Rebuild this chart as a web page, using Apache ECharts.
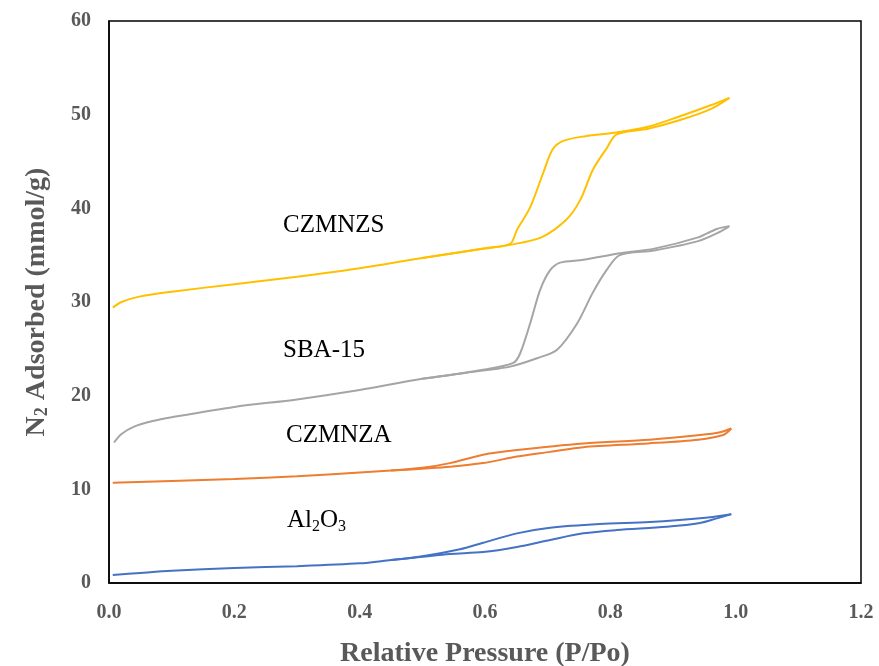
<!DOCTYPE html>
<html>
<head>
<meta charset="utf-8">
<script src="https://cdn.jsdelivr.net/npm/echarts@6/dist/echarts.min.js"></script>
<style>
  html, body { margin: 0; padding: 0; background: #fff; }
  #chart { width: 879px; height: 666px; }
</style>
</head>
<body>
<div id="chart"></div>
<script>
// 吸附/脱附等温线 [P/Po, mmol/g]
const czmnzsAds = [[0.006,29.4],[0.02,30.0],[0.05,30.6],[0.1,31.1],[0.2,31.9],[0.3,32.7],[0.4,33.6],[0.5,34.7],[0.6,35.7],[0.64,36.1],[0.69,36.9],[0.73,38.8],[0.752,40.9],[0.772,44.1],[0.795,46.5],[0.81,47.9],[0.86,48.5],[0.91,49.4],[0.96,50.6],[0.99,51.8]]
const czmnzsDes = [[0.99,51.8],[0.96,51.0],[0.91,49.8],[0.86,48.7],[0.81,48.1],[0.76,47.7],[0.725,47.2],[0.708,46.3],[0.693,43.8],[0.672,40.1],[0.651,37.7],[0.64,36.2],[0.6,35.75],[0.5,34.7]]
const sbaAds = [[0.008,15.0],[0.02,15.9],[0.04,16.7],[0.07,17.3],[0.1,17.7],[0.2,18.8],[0.3,19.6],[0.4,20.6],[0.5,21.8],[0.6,22.7],[0.64,23.1],[0.683,24.0],[0.715,24.9],[0.747,27.7],[0.772,31.0],[0.794,33.4],[0.815,35.0],[0.87,35.5],[0.94,36.5],[0.975,37.5],[0.99,38.1]]
const sbaDes = [[0.99,38.1],[0.97,37.8],[0.94,36.9],[0.87,35.7],[0.815,35.2],[0.757,34.5],[0.72,34.2],[0.704,33.4],[0.688,31.3],[0.672,27.7],[0.656,24.5],[0.645,23.5],[0.6,22.8],[0.5,21.8]]
const czmnzaAds = [[0.006,10.7],[0.1,10.9],[0.2,11.1],[0.3,11.4],[0.4,11.8],[0.45,12.0],[0.5,12.2],[0.544,12.4],[0.597,12.8],[0.651,13.5],[0.704,14.0],[0.757,14.5],[0.86,14.9],[0.94,15.3],[0.98,15.8],[0.993,16.5]]
const czmnzaDes = [[0.993,16.5],[0.975,16.1],[0.943,15.8],[0.863,15.3],[0.757,14.9],[0.651,14.2],[0.597,13.7],[0.544,12.8],[0.5,12.3],[0.45,12.0]]
const aluminaAds = [[0.006,0.85],[0.05,1.07],[0.1,1.3],[0.2,1.6],[0.3,1.8],[0.4,2.1],[0.45,2.45],[0.5,2.8],[0.544,3.1],[0.597,3.3],[0.651,3.85],[0.704,4.6],[0.757,5.3],[0.81,5.65],[0.89,6.0],[0.943,6.4],[0.97,6.9],[0.993,7.35]]
const aluminaDes = [[0.993,7.35],[0.943,6.9],[0.863,6.5],[0.783,6.3],[0.704,5.9],[0.651,5.3],[0.597,4.3],[0.56,3.6],[0.5,2.85],[0.45,2.45]]

const chart = echarts.init(document.getElementById('chart'))
const serif = 'Liberation Serif'

function branch (data, color) {
  return {
    type: 'line',
    data: data,
    smooth: 0.3,
    showSymbol: false,
    lineStyle: { color: color, width: 2 },
    z: 3
  }
}

// 曲线旁边的文字标签
function tag (x, y, text, rich) {
  return {
    type: 'text',
    left: x,
    top: y,
    style: {
      text: text,
      rich: rich,
      font: '25px "' + serif + '"',
      fill: '#000'
    }
  }
}

const option = {
  animation: false,
  grid: {
    left: 109, right: 18, top: 21, bottom: 83,
    outerBoundsMode: 'none',
    show: true, borderColor: '#000', borderWidth: 1.5
  },
  xAxis: {
    type: 'value',
    min: 0, max: 1.2, interval: 0.2,
    name: 'Relative Pressure (P/Po)',
    nameLocation: 'middle',
    nameGap: 57,
    nameTextStyle: { fontFamily: serif, fontSize: 28, fontWeight: 'bold', color: '#595959' },
    axisLine: { lineStyle: { color: '#000', width: 1.5 } },
    axisTick: { show: false },
    splitLine: { show: false },
    axisLabel: {
      margin: 20, fontFamily: serif, fontSize: 20, fontWeight: 'bold', color: '#595959',
      formatter: v => v.toFixed(1)
    }
  },
  yAxis: {
    type: 'value',
    min: 0, max: 60, interval: 10,
    name: '{b|N}{s|2}{b| Adsorbed (mmol/g)}',
    nameLocation: 'middle',
    nameGap: 58,
    nameTextStyle: {
      rich: {
        b: { fontFamily: serif, fontSize: 28, fontWeight: 'bold', color: '#595959' },
        s: { fontFamily: serif, fontSize: 18, fontWeight: 'bold', color: '#595959', verticalAlign: 'bottom', padding: [10, 0, 0, 0] }
      }
    },
    axisLine: { lineStyle: { color: '#000', width: 1.5 } },
    axisTick: { show: false },
    splitLine: { show: false },
    axisLabel: { margin: 18, fontFamily: serif, fontSize: 20, fontWeight: 'bold', color: '#595959' }
  },
  graphic: [
    tag(283, 213, 'CZMNZS'),
    tag(283, 338, 'SBA-15'),
    tag(286, 423, 'CZMNZA'),
    tag(287, 508, '{a|Al}{s|2}{a|O}{s|3}', {
      a: { fontFamily: serif, fontSize: 25, color: '#000' },
      s: { fontFamily: serif, fontSize: 16, color: '#000', padding: [12, 0, 0, 0] }
    })
  ],
  series: [
    branch(czmnzsAds, '#FFC000'),
    branch(czmnzsDes, '#FFC000'),
    branch(sbaAds, '#A5A5A5'),
    branch(sbaDes, '#A5A5A5'),
    branch(czmnzaAds, '#ED7D31'),
    branch(czmnzaDes, '#ED7D31'),
    branch(aluminaAds, '#4472C4'),
    branch(aluminaDes, '#4472C4')
  ]
}
chart.setOption(option)
</script>
</body>
</html>
